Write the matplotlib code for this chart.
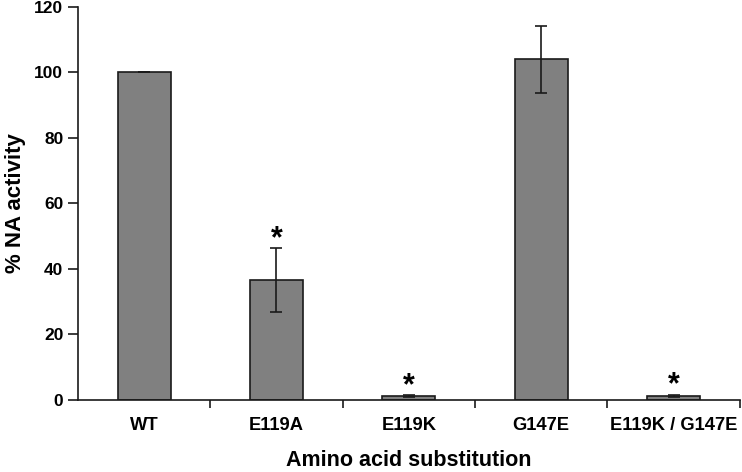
import matplotlib
matplotlib.use("Agg")
import matplotlib.pyplot as plt
import numpy as np

categories = ["WT", "E119A", "E119K", "G147E", "E119K / G147E"]
values = [100.0, 36.6, 1.1, 104.0, 1.2]
errors = [0.0, 9.7, 0.3, 10.3, 0.3]
significant = [False, True, True, False, True]

plt.rcParams['font.family'] = ['Liberation Sans', 'DejaVu Sans']
plt.rcParams['font.weight'] = 'bold'

fig = plt.figure(figsize=(7.42, 4.72), dpi=100)
ax = fig.add_axes([0.105, 0.1525, 0.892, 0.833])

x = np.arange(len(categories))
ax.bar(x, values, width=0.4, color="#808080", edgecolor="#1a1a1a", linewidth=1.2, zorder=2)
ax.errorbar(x, values, yerr=errors, fmt="none", ecolor="#1a1a1a", elinewidth=1.2,
            capsize=4, capthick=1.2, zorder=3)
for xi, v, e, s in zip(x, values, errors, significant):
    if s:
        ax.annotate("*", xy=(xi, v + e), xytext=(0, -4), textcoords="offset points",
                    ha="center", va="bottom", fontsize=22, fontweight="bold")

ax.set_xlim(-0.5, len(categories) - 0.5)
ax.set_ylim(0, 120)
ax.set_yticks(np.arange(0, 121, 20))
ax.set_xticks(x)
ax.set_xticklabels(categories, fontsize=13.2, fontweight="bold")
ax.set_xticks(np.arange(0.5, len(categories) - 0.4, 1.0), minor=True)
ax.tick_params(axis="x", which="major", length=0, pad=12)
ax.tick_params(axis="x", which="minor", length=6, width=1.2, direction="out", color="#1a1a1a")
ax.tick_params(axis="y", length=7, width=1.2, labelsize=12.5, color="#1a1a1a")
for lbl in ax.get_yticklabels():
    lbl.set_fontweight("bold")

for sp in ["top", "right"]:
    ax.spines[sp].set_visible(False)
for sp in ["left", "bottom"]:
    ax.spines[sp].set_linewidth(1.2)
    ax.spines[sp].set_color("#1a1a1a")

ax.set_ylabel("% NA activity", fontsize=16, fontweight="bold", labelpad=6)
ax.set_xlabel("Amino acid substitution", fontsize=15.5, fontweight="bold", labelpad=12)

fig.savefig("out.png", dpi=100)
